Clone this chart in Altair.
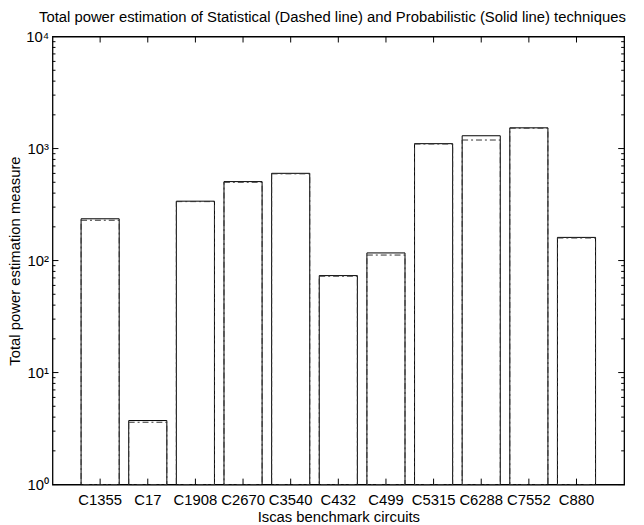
import altair as alt
import pandas as pd

circuits = ["C1355", "C17", "C1908", "C2670", "C3540", "C432", "C499",
            "C5315", "C6288", "C7552", "C880"]
probabilistic = [236, 3.73, 339, 507, 601, 73.4, 117, 1106, 1301, 1531, 161]
statistical = [229, 3.6, 336, 500, 595, 72.5, 112, 1098, 1192, 1520, 159]

y_major = [1, 10, 100, 1000, 10000]
y_minor = [m * 10 ** k for k in range(4) for m in range(2, 10)]

W, H = 578, 453
FONT = "Liberation Sans"
FS = 15

df = pd.DataFrame({"circuit": circuits, "prob": probabilistic, "stat": statistical})
ticks_df = pd.DataFrame({"circuit": circuits})
ymaj_df = pd.DataFrame({"v": y_major})
ymin_df = pd.DataFrame({"v": y_minor})

xscale = alt.Scale(domain=circuits, paddingInner=0.2, paddingOuter=0.6)
yscale = alt.Scale(type="log", domain=[1, 10000], nice=False)

label_expr = ("datum.value == 1 ? '10⁰' : datum.value == 10 ? '10¹' : "
              "datum.value == 100 ? '10²' : datum.value == 1000 ? '10³' : '10⁴'")

x_enc = alt.X("circuit:N", sort=circuits, scale=xscale,
              axis=alt.Axis(title="Iscas benchmark circuits", labelAngle=0,
                            ticks=False, domain=False, grid=False,
                            labelPadding=8, labelFontSize=FS, titleFontSize=FS,
                            titleFontWeight="normal", titlePadding=2,
                            labelColor="black", titleColor="black"))

solid = alt.Chart(df).mark_bar(fill="white", stroke="black", strokeWidth=1).encode(
    x=x_enc,
    y=alt.Y("prob:Q", scale=yscale,
            axis=alt.Axis(values=y_major, labelExpr=label_expr, ticks=False,
                          domain=False, grid=False,
                          title="Total power estimation measure",
                          labelPadding=4, labelFontSize=FS, titleFontSize=FS,
                          titleFontWeight="normal", titlePadding=3,
                          labelColor="black", titleColor="black")),
    y2=alt.datum(1),
)

dashed = alt.Chart(df).mark_bar(fill="white", fillOpacity=0, stroke="#333333",
                                strokeWidth=1, strokeDash=[6, 3, 2, 3]).encode(
    x=alt.X("circuit:N", sort=circuits, scale=xscale),
    y=alt.Y("stat:Q", scale=yscale),
    y2=alt.datum(1),
)

xt_bottom = alt.Chart(ticks_df).mark_rule(color="black", strokeWidth=1).encode(
    x=alt.X("circuit:N", sort=circuits, scale=xscale),
    y=alt.value(H), y2=alt.value(H - 6))
xt_top = alt.Chart(ticks_df).mark_rule(color="black", strokeWidth=1).encode(
    x=alt.X("circuit:N", sort=circuits, scale=xscale),
    y=alt.value(0), y2=alt.value(6))

ymaj_l = alt.Chart(ymaj_df).mark_rule(color="black").encode(
    y=alt.Y("v:Q", scale=yscale), x=alt.value(0), x2=alt.value(6))
ymaj_r = alt.Chart(ymaj_df).mark_rule(color="black").encode(
    y=alt.Y("v:Q", scale=yscale), x=alt.value(W), x2=alt.value(W - 6))
ymin_l = alt.Chart(ymin_df).mark_rule(color="black").encode(
    y=alt.Y("v:Q", scale=yscale), x=alt.value(0), x2=alt.value(3))
ymin_r = alt.Chart(ymin_df).mark_rule(color="black").encode(
    y=alt.Y("v:Q", scale=yscale), x=alt.value(W), x2=alt.value(W - 3))

chart = alt.layer(solid, dashed, xt_bottom, xt_top, ymaj_l, ymaj_r, ymin_l, ymin_r).properties(
    width=W, height=H,
    title=alt.TitleParams(
        text="Total power estimation of Statistical (Dashed line) and Probabilistic (Solid line) techniques",
        fontSize=FS, fontWeight="normal", font=FONT, anchor="middle", offset=5,
        dx=-6, color="black"),
    autosize=alt.AutoSizeParams(type="none"),
    padding={"left": 45, "top": 26, "right": 12, "bottom": 37},
).configure(font=FONT).configure_view(stroke="black", strokeWidth=1.3).configure_axis(
    labelFont=FONT, titleFont=FONT)

chart.save("out.html", embed_options={"renderer": "svg", "actions": False})
